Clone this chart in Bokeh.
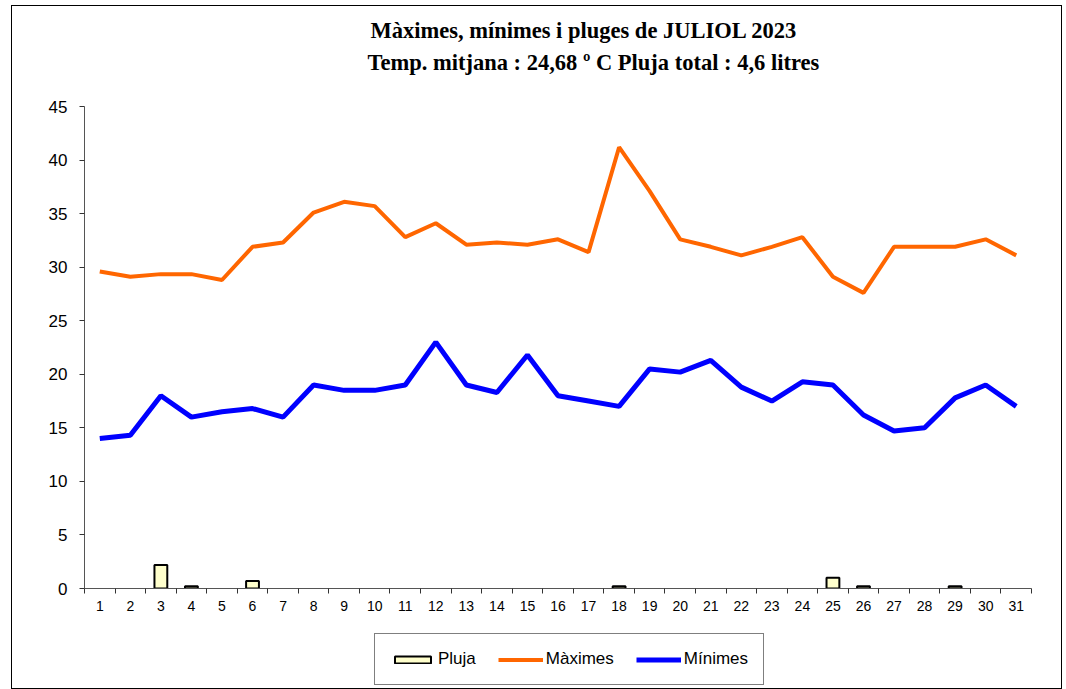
from bokeh.plotting import figure
from bokeh.layouts import column
from bokeh.models import (FixedTicker, Legend, LegendItem, ColumnDataSource, Range1d)
from bokeh.core.properties import value
from bokeh.embed import file_html
from bokeh.resources import INLINE

days = list(range(1, 32))
maximes = [29.6, 29.1, 29.35, 29.35, 28.8, 31.9, 32.3, 35.1, 36.1, 35.7,
           32.8, 34.1, 32.1, 32.3, 32.1, 32.6, 31.4, 41.2, 37.1, 32.6,
           31.9, 31.1, 31.9, 32.8, 29.1, 27.6, 31.9, 31.9, 31.9, 32.6, 31.1]
minimes = [14.0, 14.3, 18.0, 16.0, 16.5, 16.8, 16.0, 19.0, 18.5, 18.5,
           19.0, 23.0, 19.0, 18.3, 21.8, 18.0, 17.5, 17.0, 20.5, 20.2,
           21.3, 18.8, 17.5, 19.3, 19.0, 16.2, 14.7, 15.0, 17.8, 19.0, 17.0]
pluja = [0, 0, 2.2, 0.2, 0, 0.7, 0, 0, 0, 0,
         0, 0, 0, 0, 0, 0, 0, 0.2, 0, 0,
         0, 0, 0, 0, 1.0, 0.2, 0, 0, 0.2, 0, 0]
y_ticks = [0, 5, 10, 15, 20, 25, 30, 35, 40, 45]

title1 = "Màximes, mínimes i pluges de  JULIOL 2023"
title2 = "Temp. mitjana :  24,68 º C  Pluja total : 4,6 litres"

W = 1049
FRAME_W = 947
RAIN_FILL = "#FFFFCC"
MAX_COLOR = "#FF6600"
MIN_COLOR = "#0000FF"

src = ColumnDataSource(dict(day=days, mx=maximes, mn=minimes))
rain_days = [d for d, r in zip(days, pluja) if r > 0]
rain_vals = [r for r in pluja if r > 0]
rsrc = ColumnDataSource(dict(day=rain_days, rain=rain_vals))

# ---------- title strip ----------
tp = figure(width=W, height=88, output_backend="svg", toolbar_location=None,
            x_range=Range1d(0, FRAME_W), y_range=Range1d(0, 88),
            x_axis_location=None, y_axis_location=None, min_border=0)
tp.outline_line_color = None
tp.grid.visible = False
tp.text(x=[286, 283], y=[64, 32], text=[title1, title2],
        text_font=value("Liberation Serif"), text_font_size="22.5px",
        text_font_style="bold", text_color="black",
        text_align="left", text_baseline="middle")

# ---------- main chart ----------
p = figure(width=W, height=532, output_backend="svg", toolbar_location=None,
           x_range=Range1d(0.5, 31.5), y_range=Range1d(0, 45),
           min_border_left=72, min_border_right=30, min_border_top=12,
           min_border_bottom=38)
p.outline_line_color = None
p.xgrid.visible = False
p.ygrid.visible = False

p.vbar(x="day", top="rain", width=0.42, source=rsrc,
       fill_color=RAIN_FILL, line_color="black", line_width=2)
p.line(x="day", y="mx", source=src, line_color=MAX_COLOR, line_width=4)
p.line(x="day", y="mn", source=src, line_color=MIN_COLOR, line_width=5)

xa = p.xaxis[0]
xa.ticker = FixedTicker(ticks=days, minor_ticks=[d - 0.5 for d in days] + [31.5])
xa.major_tick_line_color = None
xa.major_tick_out = 5
xa.major_tick_in = 0
xa.minor_tick_out = 5
xa.minor_tick_in = 0
xa.minor_tick_line_color = "#333333"
xa.axis_line_color = "#555555"
xa.major_label_text_font = "Liberation Sans"
xa.major_label_text_font_size = "14px"
xa.major_label_text_color = "black"
xa.major_label_standoff = 7

ya = p.yaxis[0]
ya.ticker = FixedTicker(ticks=y_ticks, minor_ticks=[])
ya.major_tick_out = 5
ya.major_tick_in = 0
ya.major_tick_line_color = "#333333"
ya.axis_line_color = "#555555"
ya.major_label_text_font = "Liberation Sans"
ya.major_label_text_font_size = "17px"
ya.major_label_text_color = "black"
ya.major_label_standoff = 12

# ---------- legend strip (hidden copies of the series; only the legend shows) ----------
lp = figure(width=W, height=62, output_backend="svg", toolbar_location=None,
            x_range=Range1d(0.5, 31.5), y_range=Range1d(0, 45),
            x_axis_location=None, y_axis_location=None, min_border=0)
lp.outline_line_color = None
lp.grid.visible = False
r_bar = lp.vbar(x="day", top="rain", width=0.42, source=rsrc, fill_color=RAIN_FILL,
                line_color="black", line_width=2, visible=False)
r_max = lp.line(x="day", y="mx", source=src, line_color=MAX_COLOR, line_width=4,
                visible=False)
r_min = lp.line(x="day", y="mn", source=src, line_color=MIN_COLOR, line_width=5,
                visible=False)
legend = Legend(items=[LegendItem(label="Pluja", renderers=[r_bar]),
                       LegendItem(label="Màximes", renderers=[r_max]),
                       LegendItem(label="Mínimes", renderers=[r_min])],
                orientation="horizontal", location=(290, 3),
                border_line_color="black", border_line_width=1,
                label_text_font="Liberation Sans", label_text_font_size="17px",
                label_text_color="black", label_height=20,
                glyph_width=45, glyph_height=9, label_standoff=3, spacing=22,
                padding=15, margin=0, inactive_fill_alpha=0)
lp.add_layout(legend, "center")

layout = column(tp, p, lp, spacing=0,
                styles={"border": "1px solid black", "margin-left": "11px",
                        "margin-top": "5px"})

open("out.html", "w").write(file_html(layout, INLINE))
